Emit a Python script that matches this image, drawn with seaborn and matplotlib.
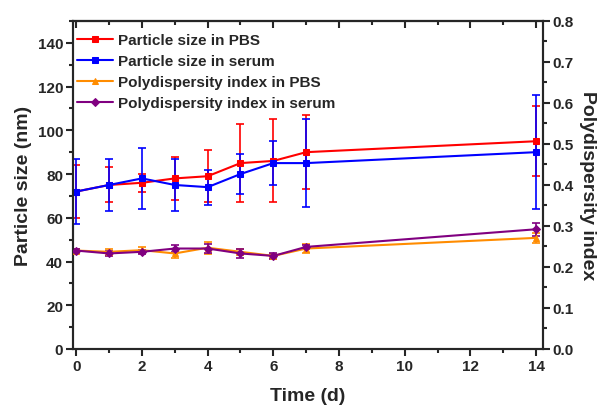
import pandas as pd
import matplotlib
matplotlib.use("Agg")
import matplotlib.pyplot as plt
import seaborn as sns
from matplotlib.ticker import MultipleLocator

days = [0, 1, 2, 3, 4, 5, 6, 7, 14]

size_pbs = [72, 75, 76, 78, 79, 85, 86, 90, 95]
size_pbs_err = [12, 8, 4, 10, 12, 18, 19, 17, 16]
size_serum = [72, 75, 78, 75, 74, 80, 85, 85, 90]
size_serum_err = [15, 12, 14, 12, 8, 9, 10, 20, 26]

pdi_pbs = [0.240, 0.237, 0.241, 0.233, 0.247, 0.237, 0.227, 0.245, 0.271]
pdi_pbs_err = [0.005, 0.007, 0.007, 0.010, 0.015, 0.007, 0.005, 0.010, 0.012]
pdi_serum = [0.240, 0.233, 0.237, 0.245, 0.245, 0.233, 0.227, 0.249, 0.292]
pdi_serum_err = [0.005, 0.005, 0.005, 0.008, 0.012, 0.012, 0.007, 0.005, 0.016]

sns.set_style("ticks")
plt.rcParams['font.family'] = ['Liberation Sans', 'DejaVu Sans']
plt.rcParams['font.weight'] = 'bold'
plt.rcParams['axes.labelweight'] = 'bold'

fig = plt.figure(figsize=(6.03, 4.14), dpi=100)
ax = fig.add_axes([0.121, 0.1546, 0.779, 0.7924])
ax2 = ax.twinx()

red, blue, orange, purple = "#FF0000", "#0000FF", "#FF8C00", "#800080"

# particle size on the left axis
for vals, err, col, mk, lab in [
    (size_pbs, size_pbs_err, red, "s", "Particle size in PBS"),
    (size_serum, size_serum_err, blue, "s", "Particle size in serum"),
]:
    ax.errorbar(days, vals, yerr=err, fmt="none", ecolor=col, elinewidth=1.2,
                capsize=3, capthick=1.2, zorder=2)
    sns.lineplot(x=days, y=vals, ax=ax, color=col, marker=mk, markersize=5,
                 markeredgecolor=col, linewidth=1.5, label=lab, zorder=3)

# polydispersity index on the right axis
for vals, err, col, mk, lab in [
    (pdi_pbs, pdi_pbs_err, orange, "^", "Polydispersity index in PBS"),
    (pdi_serum, pdi_serum_err, purple, "D", "Polydispersity index in serum"),
]:
    ax2.errorbar(days, vals, yerr=err, fmt="none", ecolor=col, elinewidth=1.2,
                 capsize=3, capthick=1.2, zorder=2)
    sns.lineplot(x=days, y=vals, ax=ax2, color=col, marker=mk, markersize=4.5,
                 markeredgecolor=col, linewidth=1.5, label=lab, zorder=3)

ax.set_xlim(-0.1, 14.2)
ax.set_ylim(0, 150)
ax2.set_ylim(0, 0.8)

ax.xaxis.set_major_locator(MultipleLocator(2))
ax.xaxis.set_minor_locator(MultipleLocator(1))
ax.yaxis.set_major_locator(MultipleLocator(20))
ax.yaxis.set_minor_locator(MultipleLocator(10))
ax2.yaxis.set_major_locator(MultipleLocator(0.1))
ax2.yaxis.set_minor_locator(MultipleLocator(0.05))
ax2.yaxis.set_major_formatter(plt.FuncFormatter(lambda v, p: f"{v:.1f}"))

ax.tick_params(axis="both", which="major", direction="out", length=5, width=1.5, labelsize=11, pad=2)
ax.tick_params(axis="both", which="minor", direction="out", length=3, width=1.5)
ax2.tick_params(axis="y", which="major", direction="out", length=5, width=1.5, labelsize=11, pad=2)
ax2.tick_params(axis="y", which="minor", direction="out", length=3, width=1.5)

top = ax.secondary_xaxis("top")
top.xaxis.set_major_locator(MultipleLocator(2))
top.xaxis.set_minor_locator(MultipleLocator(1))
top.tick_params(which="major", direction="in", length=5, width=1.5, labeltop=False)
top.tick_params(which="minor", direction="in", length=3, width=1.5)
top.spines["top"].set_linewidth(1.5)

for a in (ax, ax2):
    for s in a.spines.values():
        s.set_linewidth(1.5)
        s.set_visible(True)
    for t in a.get_xticklabels() + a.get_yticklabels():
        t.set_fontweight("bold")

ax.set_xlabel("Time (d)", fontsize=14, fontweight="bold", labelpad=10)
ax.set_ylabel("Particle size (nm)", fontsize=14, fontweight="bold", labelpad=4)
ax2.set_ylabel("Polydispersity index", fontsize=14, fontweight="bold",
               rotation=270, labelpad=16)

h1, l1 = ax.get_legend_handles_labels()
h2, l2 = ax2.get_legend_handles_labels()
if ax2.get_legend():
    ax2.get_legend().remove()
ax.legend(h1 + h2, l1 + l2, loc="upper left", bbox_to_anchor=(0.008, 0.962),
          frameon=False, prop={"weight": "bold", "size": 11}, handlelength=2.4,
          borderaxespad=0, borderpad=0, labelspacing=0.45, handletextpad=0.3)

fig.savefig("out.png", dpi=100)
